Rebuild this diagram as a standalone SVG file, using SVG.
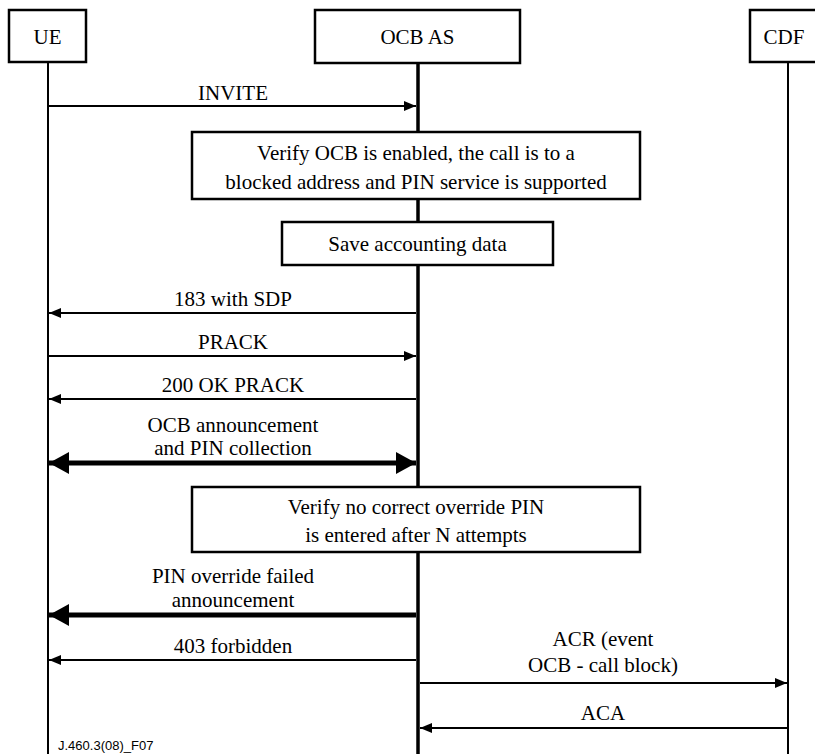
<svg xmlns="http://www.w3.org/2000/svg" width="815" height="754" viewBox="0 0 815 754">
<style>
.t{font-family:"Times New Roman",Times,"Liberation Serif","DejaVu Serif",serif;font-size:21px;fill:#000;text-anchor:middle}
.box{fill:#fff;stroke:#000;stroke-width:2.5}
.life{stroke:#000;stroke-width:2;fill:none}
.msg{stroke:#000;stroke-width:2;fill:none}
.thick{stroke:#000;stroke-width:5;fill:none}
.foot{font-family:"Liberation Sans",Arial,sans-serif;font-size:13px;text-anchor:start;fill:#000}
</style>
<defs>
<marker id="ah" viewBox="0 0 12 10" refX="12" refY="5" markerWidth="12" markerHeight="10" markerUnits="userSpaceOnUse" orient="auto-start-reverse"><path d="M0,0 L12,5 L0,10 Z" fill="#000"/></marker>
<marker id="ahb" viewBox="0 0 20 22" refX="20" refY="11" markerWidth="20" markerHeight="22" markerUnits="userSpaceOnUse" orient="auto-start-reverse"><path d="M0,0 L20,11 L0,22 Z" fill="#000"/></marker>
</defs>
<rect width="815" height="754" fill="#fff"/>
<g id="lifelines">
<line class="life" x1="48" y1="62" x2="48" y2="754"/>
<line class="life" x1="418" y1="63" x2="418" y2="754" style="stroke-width:3.5"/>
<line class="life" x1="788" y1="62" x2="788" y2="754"/>
</g>
<g id="UE"><rect class="box" x="9" y="10" width="77" height="52"/><text class="t" x="47.5" y="44">UE</text></g>
<g id="OCBAS"><rect class="box" x="315" y="10" width="205" height="53"/><text class="t" x="417.5" y="44">OCB AS</text></g>
<g id="CDF"><rect class="box" x="750" y="10" width="70" height="52"/><text class="t" x="784" y="44">CDF</text></g>
<g id="verify1"><rect class="box" x="192" y="132" width="448" height="67"/><text class="t" x="416" y="160">Verify OCB is enabled, the call is to a</text><text class="t" x="416" y="189">blocked address and PIN service is supported</text></g>
<g id="save"><rect class="box" x="282" y="222" width="271" height="43"/><text class="t" x="417.5" y="251">Save accounting data</text></g>
<g id="verify2"><rect class="box" x="192" y="487" width="448" height="65"/><text class="t" x="416" y="514">Verify no correct override PIN</text><text class="t" x="416" y="542">is entered after N attempts</text></g>
<g id="connectors">
<line class="msg" x1="48" y1="106" x2="416" y2="106" marker-end="url(#ah)"/>
<line class="msg" x1="416" y1="313" x2="49" y2="313" marker-end="url(#ah)"/>
<line class="msg" x1="48" y1="356" x2="416" y2="356" marker-end="url(#ah)"/>
<line class="msg" x1="416" y1="399" x2="49" y2="399" marker-end="url(#ah)"/>
<line class="thick" x1="49" y1="463" x2="416" y2="463" marker-start="url(#ahb)" marker-end="url(#ahb)"/>
<line class="thick" x1="416" y1="615" x2="49" y2="615" marker-end="url(#ahb)"/>
<line class="msg" x1="416" y1="660" x2="49" y2="660" marker-end="url(#ah)"/>
<line class="msg" x1="420" y1="683" x2="787" y2="683" marker-end="url(#ah)"/>
<line class="msg" x1="787" y1="728" x2="420" y2="728" marker-end="url(#ah)"/>
</g>
<g id="labels">
<text class="t" x="233" y="100">INVITE</text>
<text class="t" x="233" y="306">183 with SDP</text>
<text class="t" x="233" y="349">PRACK</text>
<text class="t" x="233" y="392">200 OK PRACK</text>
<text class="t" x="233" y="432">OCB announcement</text>
<text class="t" x="233" y="455">and PIN collection</text>
<text class="t" x="233" y="583">PIN override failed</text>
<text class="t" x="233" y="607">announcement</text>
<text class="t" x="233" y="653">403 forbidden</text>
<text class="t" x="603" y="646">ACR (event</text>
<text class="t" x="603" y="672">OCB - call block)</text>
<text class="t" x="603" y="720">ACA</text>
<text class="foot" x="58" y="750">J.460.3(08)_F07</text>
</g>
</svg>
